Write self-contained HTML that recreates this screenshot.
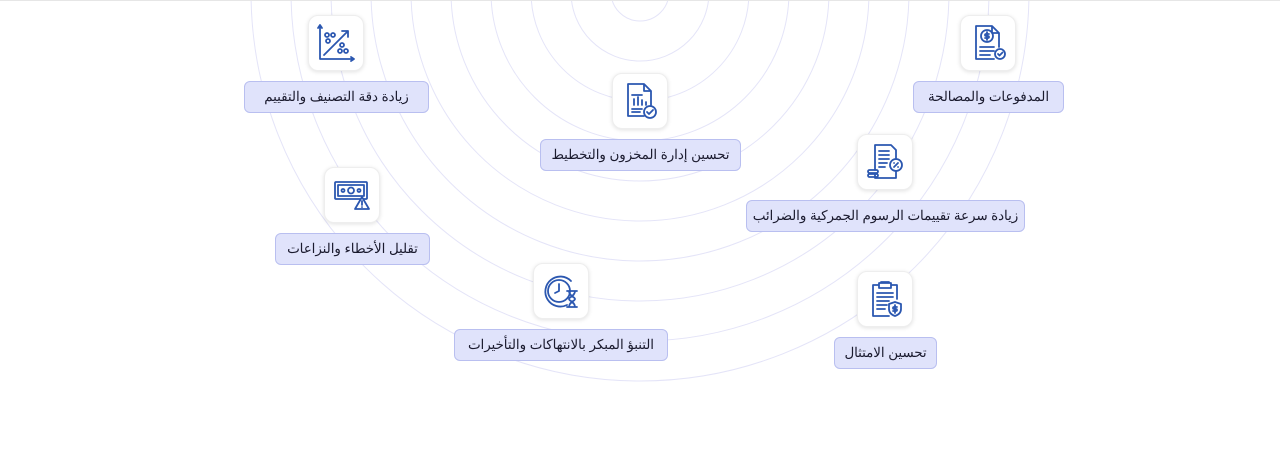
<!DOCTYPE html>
<html><head><meta charset="utf-8"><style>
body{margin:0;width:1280px;height:460px;background:#fff;position:relative;overflow:hidden;font-family:"Liberation Sans","Noto Sans CJK SC",sans-serif}
.ic{position:absolute;width:56px;height:56px;background:#fff;border-radius:10px;box-shadow:0 1px 4px rgba(0,0,0,.12);border:1px solid #eee;box-sizing:border-box;display:flex;align-items:center;justify-content:center}
.lb{position:absolute;height:32px;background:#e0e3fb;border:1px solid #b9bff0;border-radius:6px;box-sizing:border-box;font-size:13.3px;color:#1a1a2e;display:flex;align-items:center;justify-content:center;direction:rtl;white-space:nowrap}
svg.i{width:40px;height:40px;fill:none;stroke:#2b57b0;stroke-width:1.8;stroke-linecap:round;stroke-linejoin:round}
</style></head><body>
<svg style="position:absolute;left:0;top:0" width="1280" height="460">
<g fill="none" stroke="#e4e4f8" stroke-width="1">
<circle cx="640" cy="-8" r="29"/><circle cx="640" cy="-8" r="69"/><circle cx="640" cy="-8" r="109"/><circle cx="640" cy="-8" r="149"/><circle cx="640" cy="-8" r="189"/><circle cx="640" cy="-8" r="229"/><circle cx="640" cy="-8" r="269"/><circle cx="640" cy="-8" r="309"/><circle cx="640" cy="-8" r="349"/><circle cx="640" cy="-8" r="389"/>
</g><line x1="0" y1="0.5" x2="1280" y2="0.5" stroke="#e6e6e6"/></svg>

<div class="ic" style="left:308px;top:15px"><svg class="i" viewBox="0 0 40 40"><path d="M4 2v34h34M2 5l2-3 2 3M35 34l3 2-3 2M8 32L32 8M26 8h6v6"/><circle cx="11" cy="12" r="2"/><circle cx="17" cy="12" r="2"/><circle cx="12" cy="18" r="2"/><circle cx="26" cy="22" r="2"/><circle cx="24" cy="28" r="2"/><circle cx="30" cy="28" r="2"/></svg></div>
<div class="lb" style="left:244px;top:81px;width:185px">زيادة دقة التصنيف والتقييم</div>

<div class="ic" style="left:612px;top:73px"><svg class="i" viewBox="0 0 40 40"><path d="M8 3h16l7 7v14M24 3v7h7M8 3v32h16M12 14h10M12 28h10M12 31h8M14 24v-6M18 24v-8M22 24v-5M26 24v-3"/><circle cx="30" cy="31" r="6"/><path d="M27 31l2 2 4-4"/></svg></div>
<div class="lb" style="left:540px;top:139px;width:201px">تحسين إدارة المخزون والتخطيط</div>

<div class="ic" style="left:960px;top:15px"><svg class="i" viewBox="0 0 40 40"><path d="M8 3h16l7 7v14M24 3v7h7M8 3v33h18M12 24h14M12 28h14M12 32h10"/><circle cx="19" cy="13" r="6"/><path d="M19 9v8M21 11h-3a1 1 0 0 0 0 2h2a1 1 0 0 1 0 2h-3"/><circle cx="32" cy="31" r="5"/><path d="M30 31l1.5 1.5 3-3"/></svg></div>
<div class="lb" style="left:913px;top:81px;width:151px">المدفوعات والمصالحة</div>

<div class="ic" style="left:857px;top:134px"><svg class="i" viewBox="0 0 40 40"><path d="M10 28V3h16l5 5v9M10 33v3h21V29M14 9h10M14 13h10M14 17h10M14 21h8M14 25h6"/><circle cx="31" cy="23" r="6"/><path d="M29 25l4-4M29 21h.1M33 25h.1"/><rect x="3" y="28" width="10" height="3" rx="1.5"/><rect x="3" y="32" width="10" height="3" rx="1.5"/></svg></div>
<div class="lb" style="left:746px;top:200px;width:279px">زيادة سرعة تقييمات الرسوم الجمركية والضرائب</div>

<div class="ic" style="left:324px;top:167px"><svg class="i" viewBox="0 0 40 40"><rect x="3" y="7" width="32" height="17" rx="1"/><rect x="6" y="10" width="26" height="11"/><circle cx="19" cy="15.5" r="3"/><circle cx="11" cy="15.5" r="1.5"/><circle cx="27" cy="15.5" r="1.5"/><path d="M30 22l-7 12h14z" fill="#fff"/><path d="M30 26v4M30 32v.1"/></svg></div>
<div class="lb" style="left:275px;top:233px;width:155px">تقليل الأخطاء والنزاعات</div>

<div class="ic" style="left:533px;top:263px"><svg class="i" viewBox="0 0 40 40"><path d="M30 10A15 15 0 1 0 26 34"/><circle cx="18" cy="20" r="11"/><path d="M18 13v7l-4 2"/><path d="M26 20h10M26 36h10M28 20c0 5 6 6 6 8s-6 3-6 8M34 20c0 5-6 6-6 8s6 3 6 8"/></svg></div>
<div class="lb" style="left:454px;top:329px;width:214px">التنبؤ المبكر بالانتهاكات والتأخيرات</div>

<div class="ic" style="left:857px;top:271px"><svg class="i" viewBox="0 0 40 40"><path d="M14 6h-6v31h16M26 6h6v14M14 4h12v5H14zM16 3h8M12 14h16M12 18h16M12 22h12M12 26h10M12 30h8"/><path d="M30 23l6 2v5c0 4-3 6-6 7-3-1-6-3-6-7v-5z"/><path d="M30 26v8M32 28h-3a1 1 0 0 0 0 2h2a1 1 0 0 1 0 2h-3"/></svg></div>
<div class="lb" style="left:834px;top:337px;width:103px">تحسين الامتثال</div>
</body></html>
